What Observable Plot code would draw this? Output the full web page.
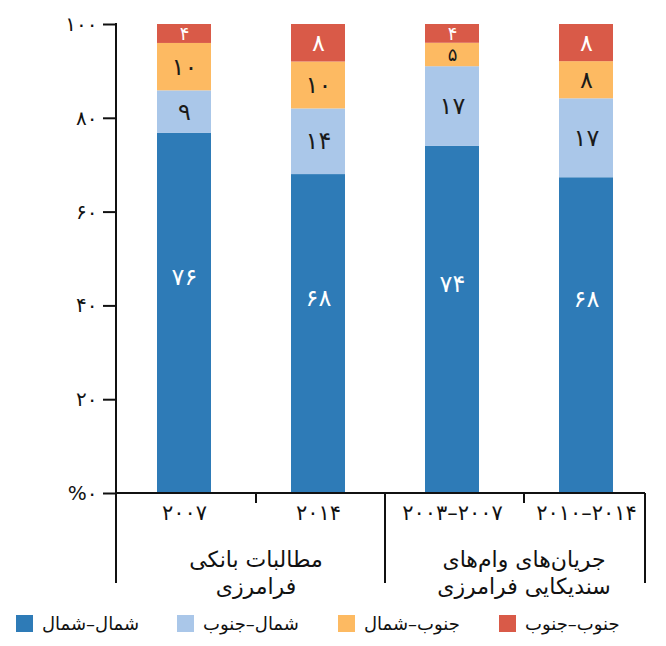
<!DOCTYPE html>
<html>
<head>
<meta charset="utf-8">
<script src="https://cdn.jsdelivr.net/npm/d3@7"></script>
<script src="https://cdn.jsdelivr.net/npm/@observablehq/plot@0.6"></script>
<style>
  html, body { margin: 0; padding: 0; background: #fff; }
  body { font-family: "DejaVu Sans", sans-serif; color: #111; width: 666px; }
  #legend { display: flex; align-items: center; height: 46px; padding-left: 16px; box-sizing: border-box; }
  .item { display: flex; align-items: center; width: 161px; }
  .sw { width: 17px; height: 17px; margin-right: 9px; flex: none; }
  .lab { font-size: 18px; direction: rtl; unicode-bidi: isolate; color: #111; }
</style>
</head>
<body>
<div id="chart"></div>
<div id="legend"></div>
<script>
// ---- data ----
const bars = ["b2007", "b2014", "s2003", "s2010"];
const barLabels = ["۲۰۰۷", "۲۰۱۴", "۲۰۰۳–۲۰۰۷", "۲۰۱۰–۲۰۱۴"];
const groupLabels = [["مطالبات بانکی", "فرامرزی"], ["جریان‌های وام‌های", "سندیکایی فرامرزی"]];
const groupBars = [["b2007", "b2014"], ["s2003", "s2010"]];
const series = ["شمال–شمال", "شمال–جنوب", "جنوب–شمال", "جنوب–جنوب"];
const northNorth = [76, 68, 74, 68];
const northSouth = [9, 14, 17, 17];
const southNorth = [10, 10, 5, 8];
const southSouth = [4, 8, 4, 8];
const yTicks = [0, 20, 40, 60, 80, 100];
const yTickLabels = ["%۰", "۲۰", "۴۰", "۶۰", "۸۰", "۱۰۰"];
const colors = ["#2e7bb7", "#aac7e9", "#fdba62", "#d95a48"];

// ---- build ----
const toFa = n => String(n).replace(/\d/g, d => "۰۱۲۳۴۵۶۷۸۹"[d]);
const seriesValues = [northNorth, northSouth, southNorth, southSouth];
const rows = bars.flatMap((b, i) => series.map((s, j) => ({bar: b, series: s, value: seriesValues[j][i]})));
const stackOpts = {x: "bar", y: "value", z: "series", order: series, offset: "normalize"};

const chart = Plot.plot({
  width: 666,
  height: 600,
  marginTop: 24,
  marginLeft: 116,
  marginRight: 21,
  marginBottom: 107,
  x: {domain: bars, paddingInner: 0.6, paddingOuter: 0.269, align: 0.556, axis: null},
  y: {domain: [0, 1], axis: null},
  color: {domain: series, range: colors},
  style: {fontFamily: "'DejaVu Sans', sans-serif", color: "#111", background: "#fff", overflow: "visible"},
  marks: [
    Plot.barY(rows, Plot.stackY({...stackOpts, fill: "series"})),
    Plot.text(rows, Plot.stackY({
      ...stackOpts,
      text: d => d.series === series[0] ? null : toFa(d.value),
      fill: d => d.series === series[3] ? "#ffffff" : "#1a1a1a",
      fontSize: d => d.value < 6 ? 18 : 24
    })),
    Plot.text(rows, Plot.stackY({
      ...stackOpts,
      text: d => d.series === series[0] ? toFa(d.value) : null,
      fill: "#ffffff",
      fontSize: 24,
      dy: -36
    })),
    Plot.axisY({
      ticks: yTicks.map(v => v / 100),
      tickFormat: d => yTickLabels[yTicks.indexOf(Math.round(d * 100))],
      tickSize: 13,
      tickPadding: 6,
      fontSize: 20,
      strokeWidth: 2,
      stroke: "#111",
      label: null
    }),
    Plot.axisX({
      tickFormat: d => barLabels[bars.indexOf(d)],
      tickSize: 0,
      tickPadding: 12,
      fontSize: 21,
      label: null
    })
  ]
});

document.getElementById("chart").appendChild(chart);

// ---- axis lines, group separators and group labels from the chart's scales ----
const sx = chart.scale("x"), sy = chart.scale("y");
const [xl, xr] = sx.range;
const yb = sy.apply(0), yt = sy.apply(1);
const ybot = yb + 90;
const cx = k => sx.apply(k) + sx.bandwidth / 2;
const svg = d3.select(chart);

// spread out the digit-only labels (not Arabic words, to keep their joining)
svg.selectAll("text").filter(function () {
  return /^[۰-۹%–]+$/.test(this.textContent.trim());
}).style("letter-spacing", "3px");

const g = svg.append("g").attr("stroke", "#111").attr("stroke-width", 2).attr("fill", "none");
const line = (x1, y1, x2, y2) => g.append("line").attr("x1", x1).attr("y1", y1).attr("x2", x2).attr("y2", y2);
line(xl, yt - 1, xl, ybot);
line(xl, yb, xr, yb);
line((cx(bars[1]) + cx(bars[2])) / 2, yb, (cx(bars[1]) + cx(bars[2])) / 2, ybot);
line(xr, yb, xr, ybot);
const tg = svg.append("g").attr("fill", "#111").attr("font-size", 22).attr("text-anchor", "middle")
  .attr("font-family", "'DejaVu Sans', sans-serif");
groupBars.forEach((gb, i) => {
  const gx = (cx(gb[0]) + cx(gb[1])) / 2 + 5;
  line(gx, yb, gx, yb + 10);
  groupLabels[i].forEach((t, j) => {
    tg.append("text").attr("x", gx).attr("y", yb + 66 + j * 27)
      .attr("dy", "0.35em").attr("direction", "rtl").text(t);
  });
});

// ---- legend ----
const legend = d3.select("#legend");
series.forEach((s, i) => {
  const it = legend.append("div").attr("class", "item");
  it.append("div").attr("class", "sw").style("background", colors[i]);
  it.append("span").attr("class", "lab").text(s);
});
</script>
</body>
</html>
